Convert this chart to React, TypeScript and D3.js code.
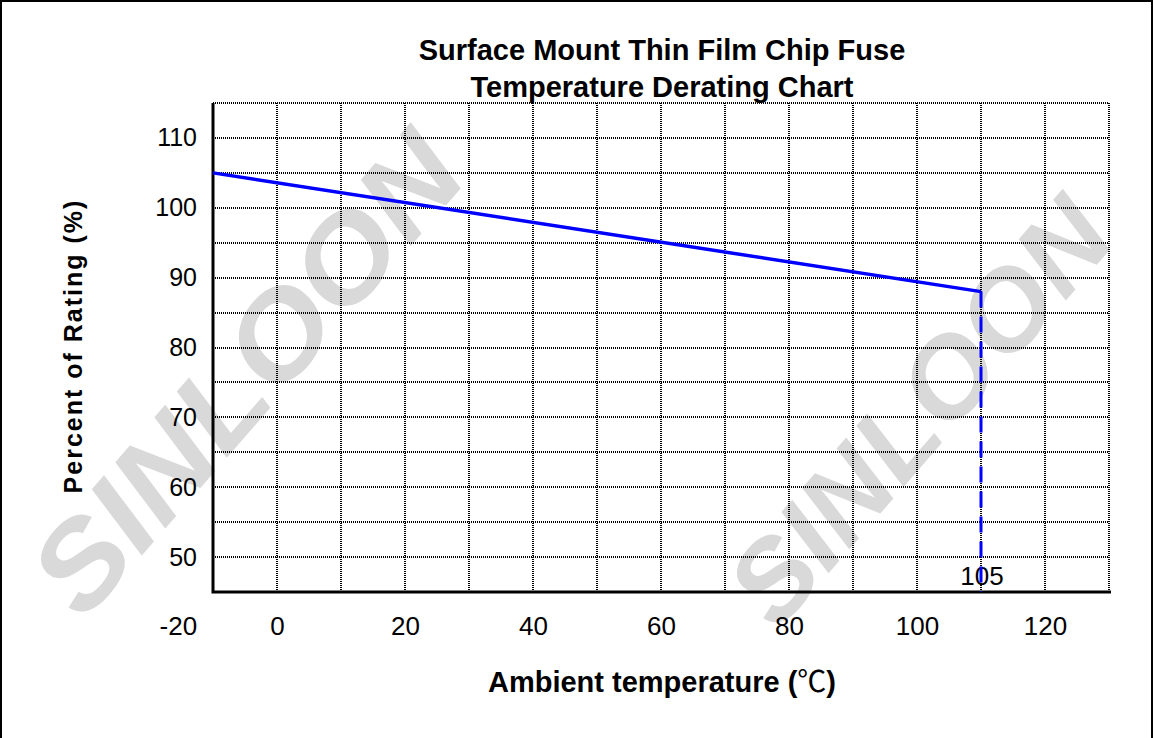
import React, { useEffect, useRef } from "react";
import * as d3 from "d3";

// derating curve: ambient temperature (°C) -> percent of rating
const temps = [-10, 110];
const ratings = [105, 88];

// vertical cut-off at the end of the curve
const cutoffTemp = 110;
const cutoffLabel = "105";

// tick labels (the source puts its "-20" left of the axis start)
const xTickValues = [-15.5, 0, 20, 40, 60, 80, 100, 120];
const xTickLabels = ["-20", "0", "20", "40", "60", "80", "100", "120"];
const yTickValues = [50, 60, 70, 80, 90, 100, 110];

const titleLines = ["Surface Mount Thin Film Chip Fuse", "Temperature Derating Chart"];
const xTitleParts = ["Ambient temperature (", "\u2103", ")"];
const yTitle = "Percent of Rating (%)";
const watermark = "SINLOON";

const FONT = "'Liberation Sans', Arial, Helvetica, sans-serif";

const DeratingChart: React.FC = () => {
  const svgRef = useRef<SVGSVGElement | null>(null);

  useEffect(() => {
    const width = 1157;
    const height = 738;
    const left = 213;
    const right = 1109;
    const top = 103;
    const bottom = 592;

    const x = d3.scaleLinear().domain([-10, 130]).range([left, right]);
    const y = d3.scaleLinear().domain([45, 115]).range([bottom, top]);

    d3.select(svgRef.current).selectAll("*").remove();
    const svg = d3
      .select(svgRef.current)
      .attr("width", width)
      .attr("height", height)
      .style("font-family", FONT);

    svg.append("rect").attr("width", width).attr("height", height).attr("fill", "#fff");

    // outer frame
    svg
      .append("rect")
      .attr("x", 1)
      .attr("y", 1)
      .attr("width", width - 6)
      .attr("height", height + 10)
      .attr("fill", "none")
      .attr("stroke", "#000")
      .attr("stroke-width", 2);

    // watermark (second one kept inside the frame)
    [
      [245, 372, 590, 118],
      [918, 410, 520, 110],
    ].forEach(([cx, cy, len, fs]) => {
      svg
        .append("text")
        .attr("transform", `translate(${cx},${cy}) rotate(-49)`)
        .attr("text-anchor", "middle")
        .attr("dy", "0.36em")
        .attr("font-size", fs)
        .attr("font-weight", "bold")
        .attr("font-style", "italic")
        .attr("textLength", len)
        .attr("lengthAdjust", "spacingAndGlyphs")
        .attr("fill", "#d9d9d9")
        .text(watermark);
    });

    // dotted grid
    const grid = svg.append("g").attr("stroke", "#000").attr("stroke-width", 2).attr("stroke-dasharray", "1,1");
    grid
      .selectAll(".vgrid")
      .data(d3.range(0, 131, 10))
      .enter()
      .append("line")
      .attr("x1", (d) => Math.round(x(d)))
      .attr("x2", (d) => Math.round(x(d)))
      .attr("y1", top)
      .attr("y2", bottom);
    grid
      .selectAll(".hgrid")
      .data(d3.range(50, 116, 5))
      .enter()
      .append("line")
      .attr("x1", left)
      .attr("x2", right)
      .attr("y1", (d) => Math.round(y(d)))
      .attr("y2", (d) => Math.round(y(d)));

    // solid left + bottom axis lines
    svg
      .append("path")
      .attr("d", `M${left},${top}V${bottom}H${right + 2}`)
      .attr("fill", "none")
      .attr("stroke", "#000")
      .attr("stroke-width", 3);

    // tick labels
    const xAxis = svg
      .append("g")
      .attr("transform", `translate(0,${bottom})`)
      .call(
        d3
          .axisBottom(x)
          .tickValues(xTickValues)
          .tickSize(0)
          .tickPadding(25)
          .tickFormat((_, i) => xTickLabels[i])
      );
    xAxis.select(".domain").remove();
    xAxis.selectAll("text").attr("font-size", 26).attr("font-family", FONT).attr("fill", "#000");

    const yAxis = svg
      .append("g")
      .attr("transform", `translate(${left},0)`)
      .call(d3.axisLeft(y).tickValues(yTickValues).tickSize(0).tickPadding(16).tickFormat(d3.format("d")));
    yAxis.select(".domain").remove();
    yAxis.selectAll("text").attr("font-size", 25).attr("font-family", FONT).attr("fill", "#000");

    // titles
    svg
      .selectAll(".title")
      .data(titleLines)
      .enter()
      .append("text")
      .attr("x", 662)
      .attr("y", (_, i) => 60 + i * 37)
      .attr("text-anchor", "middle")
      .attr("font-size", 29)
      .attr("font-weight", "bold")
      .text((d) => d);

    const xt = svg
      .append("text")
      .attr("x", 662)
      .attr("y", 692)
      .attr("text-anchor", "middle")
      .attr("font-size", 29)
      .attr("font-weight", "bold");
    xTitleParts.forEach((p, i) => {
      const ts = xt.append("tspan").text(p);
      if (i === 1) ts.attr("font-family", "'Noto Sans CJK SC', sans-serif").attr("font-weight", "normal");
    });

    svg
      .append("text")
      .attr("transform", `translate(73,346) rotate(-90)`)
      .attr("text-anchor", "middle")
      .attr("dy", "0.36em")
      .attr("font-size", 25)
      .attr("font-weight", "bold")
      .attr("letter-spacing", 2)
      .text(yTitle);

    // cut-off label sits under the dashed drop
    svg
      .append("text")
      .attr("x", x(cutoffTemp) + 1)
      .attr("y", 585)
      .attr("text-anchor", "middle")
      .attr("font-size", 26)
      .text(cutoffLabel);

    // derating line
    const pts = temps.map((t, i) => [x(t), y(ratings[i])] as [number, number]);
    svg
      .append("path")
      .attr("d", d3.line()(pts))
      .attr("fill", "none")
      .attr("stroke", "#0000ff")
      .attr("stroke-width", 3.5);

    svg
      .append("line")
      .attr("x1", x(cutoffTemp))
      .attr("x2", x(cutoffTemp))
      .attr("y1", y(ratings[ratings.length - 1]))
      .attr("y2", y(45))
      .attr("stroke", "#0000ff")
      .attr("stroke-width", 3)
      .attr("stroke-dasharray", "16,9");
  }, []);

  return <svg ref={svgRef}></svg>;
};

export default function App() {
  return (
    <div style={{ position: "absolute", left: 0, top: 0 }}>
      <DeratingChart />
    </div>
  );
}
